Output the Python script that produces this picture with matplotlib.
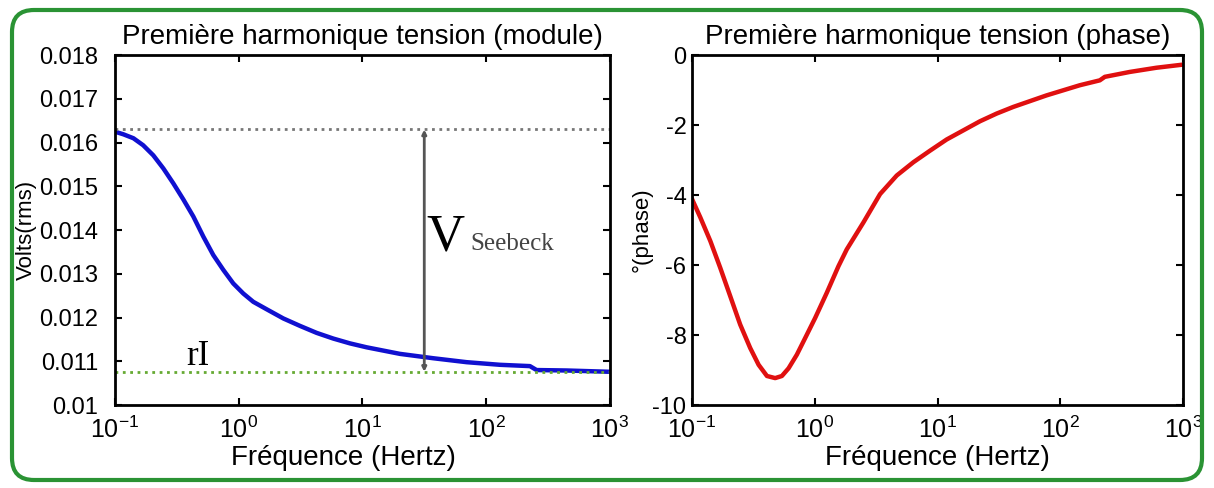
import matplotlib
matplotlib.use("Agg")
import matplotlib.pyplot as plt
from matplotlib.patches import FancyBboxPatch
from matplotlib.transforms import IdentityTransform
from matplotlib.ticker import FixedLocator, FixedFormatter, NullLocator

plt.rcParams["font.family"] = ["Liberation Sans", "DejaVu Sans"]
plt.rcParams["mathtext.fontset"] = "custom"
plt.rcParams["mathtext.rm"] = "Liberation Sans"
plt.rcParams["mathtext.it"] = "Liberation Sans"
plt.rcParams["axes.unicode_minus"] = False

# ---------- DATA ----------
freq_mod = [0.1, 0.117, 0.141, 0.169, 0.204, 0.246, 0.296, 0.357, 0.43,
            0.518, 0.623, 0.751, 0.904, 1.089, 1.312, 1.681, 2.293, 3.126,
            4.263, 5.811, 7.925, 10.81, 20.09, 37.36, 69.48, 129.2, 225.7,
            255.5, 446.3, 1000]
volt_mod = [0.01625, 0.01619, 0.01610, 0.01594, 0.01571, 0.01541, 0.01507,
            0.01470, 0.01431, 0.01385, 0.01343, 0.01309, 0.01278, 0.01255,
            0.01236, 0.01219, 0.01198, 0.01181, 0.01165, 0.01152, 0.01141,
            0.01132, 0.01117, 0.01107, 0.01098, 0.01092, 0.01089, 0.01080,
            0.01079, 0.01076]

freq_ph = [0.1, 0.117, 0.141, 0.17, 0.205, 0.247, 0.298, 0.349, 0.408,
           0.476, 0.54, 0.612, 0.715, 0.862, 1.008, 1.254, 1.561, 1.824,
           2.493, 3.405, 4.654, 6.361, 8.69, 11.88, 16.23, 22.17, 30.3,
           41.4, 77.29, 144.3, 209.9, 230.6, 368.2, 606.9, 1000]
phase = [-4.11, -4.64, -5.31, -6.08, -6.89, -7.70, -8.37, -8.85, -9.17,
         -9.23, -9.17, -8.95, -8.56, -7.99, -7.51, -6.79, -6.03, -5.55,
         -4.78, -3.97, -3.44, -3.06, -2.73, -2.41, -2.15, -1.89, -1.67,
         -1.48, -1.15, -0.86, -0.72, -0.62, -0.48, -0.36, -0.27]

v_high = 0.0163      # plateau basse frequence
v_low = 0.01076      # rI
f_arrow = 31.6

x_ticks = [0.1, 1, 10, 100, 1000]
y_ticks_mod = [0.010, 0.011, 0.012, 0.013, 0.014, 0.015, 0.016, 0.017, 0.018]
y_labels_mod = ["0.01", "0.011", "0.012", "0.013", "0.014", "0.015",
                "0.016", "0.017", "0.018"]
y_ticks_ph = [-10, -8, -6, -4, -2, 0]
y_labels_ph = ["-10", "-8", "-6", "-4", "-2", "0"]

# ---------- PLOTTING ----------
fig = plt.figure(figsize=(12.14, 4.88), dpi=100)

# cadre vert arrondi
frame = FancyBboxPatch((12, 8), 1190, 470, boxstyle="round,pad=0,rounding_size=22",
                       transform=IdentityTransform(), facecolor="none",
                       edgecolor="#2a9334", linewidth=3)
fig.patches.append(frame)

ax1 = fig.add_axes([0.0947, 0.170, 0.4077, 0.717])
ax2 = fig.add_axes([0.570, 0.170, 0.4045, 0.717])


def style(ax, ypad):
    ax.set_xscale("log")
    ax.set_xlim(0.1, 1000)
    ax.xaxis.set_major_locator(FixedLocator(x_ticks))
    ax.xaxis.set_minor_locator(NullLocator())
    ax.tick_params(direction="in", top=True, right=True, length=5, width=1.5,
                   labelsize=18)
    ax.tick_params(axis="x", pad=8)
    ax.tick_params(axis="y", pad=ypad, labelsize=17)
    for s in ax.spines.values():
        s.set_linewidth(2)


# Graph 1: module
style(ax1, 12)
ax1.plot(freq_mod, volt_mod, color="#1010d0", linewidth=3.2)
ax1.axhline(v_high, color="#777777", linestyle=":", linewidth=2)
ax1.axhline(v_low, color="#66aa33", linestyle=":", linewidth=2)
ax1.annotate("", xy=(f_arrow, v_high), xytext=(f_arrow, v_low),
             arrowprops=dict(arrowstyle="<|-|>", color="#555555", lw=2,
                             mutation_scale=6, shrinkA=0, shrinkB=0))
ax1.text(33, 0.01354, "V", family="Liberation Serif", fontsize=38)
ax1.text(74, 0.01354, "Seebeck", family="Liberation Serif", fontsize=18,
         color="#444444")
ax1.text(0.38, 0.01091, "rI", family="Liberation Serif", fontsize=25)
ax1.set_ylim(0.010, 0.018)
ax1.yaxis.set_major_locator(FixedLocator(y_ticks_mod))
ax1.yaxis.set_major_formatter(FixedFormatter(y_labels_mod))
ax1.set_title("Première harmonique tension (module)", fontsize=20, pad=8)
ax1.set_xlabel("Fréquence (Hertz)", fontsize=20, labelpad=2)
ax1.xaxis.label.set_x(0.462)
ax1.set_ylabel("Volts(rms)", fontsize=16)
ax1.yaxis.set_label_coords(-0.158, 0.5)

# Graph 2: phase
style(ax2, 4)
ax2.plot(freq_ph, phase, color="#e01010", linewidth=3.2)
ax2.set_ylim(-10, 0)
ax2.yaxis.set_major_locator(FixedLocator(y_ticks_ph))
ax2.yaxis.set_major_formatter(FixedFormatter(y_labels_ph))
ax2.set_title("Première harmonique tension (phase)", fontsize=20, pad=8)
ax2.set_xlabel("Fréquence (Hertz)", fontsize=20, labelpad=2)
ax2.set_ylabel("°(phase)", fontsize=16, labelpad=0)

fig.savefig("out.png", dpi=100)
